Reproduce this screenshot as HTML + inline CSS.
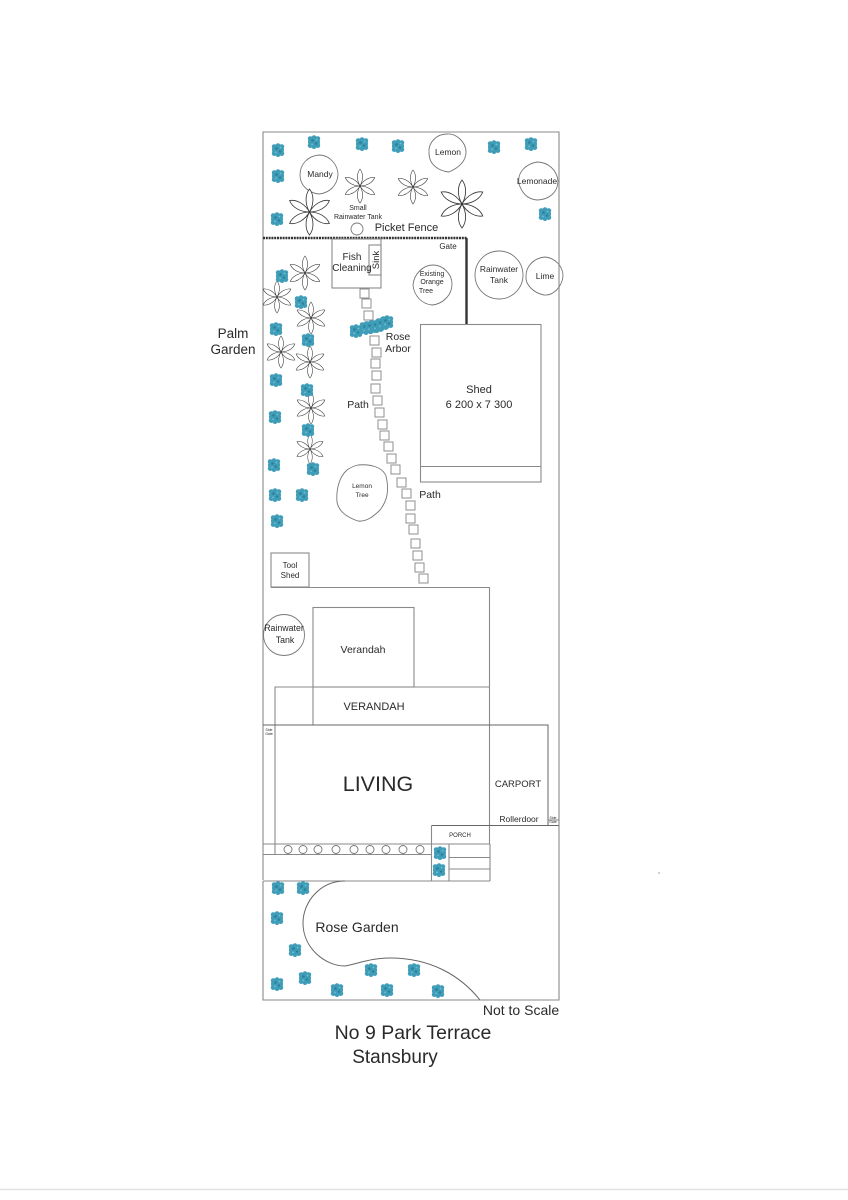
<!DOCTYPE html>
<html><head><meta charset="utf-8"><style>
html,body{margin:0;padding:0;background:#fff}
svg{display:block;filter:blur(.35px)}
text{font-family:"Liberation Sans",sans-serif;fill:#2a2a2a;text-anchor:middle}
.l{fill:none;stroke:#8a8a8a;stroke-width:1.1}
.d{fill:none;stroke:#666;stroke-width:1}
.s{fill:#fff;stroke:#8f8f8f;stroke-width:1}
.t{fill:none;stroke:#777;stroke-width:.9}
</style></head><body>
<svg width="848" height="1200" viewBox="0 0 848 1200" xmlns="http://www.w3.org/2000/svg">
<defs>
<g id="p"><path id="pt" d="M0 0C-.2 -.35 -.2 -.75 0 -1C.2 -.75 .2 -.35 0 0Z" fill="#fff" stroke="#333" stroke-width=".035"/><use href="#pt" transform="rotate(60)"/><use href="#pt" transform="rotate(120)"/><use href="#pt" transform="rotate(180)"/><use href="#pt" transform="rotate(240)"/><use href="#pt" transform="rotate(300)"/></g>
<g id="b"><circle r="6" fill="#3f9db8"/><circle cx="-3.8" cy="-3.4" r="2.4" fill="#3f9db8"/><circle cx="3.8" cy="-3.4" r="2.4" fill="#3f9db8"/><circle cx="-3.8" cy="3.6" r="2.4" fill="#3f9db8"/><circle cx="3.8" cy="3.6" r="2.4" fill="#3f9db8"/><circle cx="0" cy="-4.800" r="2" fill="#3f9db8"/><circle cx="0" cy="5" r="2" fill="#3f9db8"/><circle cx="-1.500" cy="-1.500" r="1.3" fill="#2a7f9a"/><circle cx="2" cy="1.600" r="1.2" fill="#2a7f9a"/><circle cx="-2" cy="2.400" r=".9" fill="#70c0d4"/><circle cx="2.500" cy="-2.500" r=".9" fill="#70c0d4"/></g>
</defs>

<!-- outer boundary -->
<path class="l" d="M263 880V132H559V1000H263V881"/>
<!-- fence -->
<path d="M263 238H467" stroke="#333" stroke-width="2.6" stroke-dasharray="2 .8" fill="none"/>
<path d="M466.500 238V324" stroke="#333" stroke-width="2.4" fill="none"/>
<!-- fish cleaning -->
<rect class="l" x="332" y="239" width="49" height="49"/>
<rect class="l" x="369" y="245" width="12" height="30"/>
<!-- shed -->
<rect class="l" x="420.500" y="324.500" width="120.500" height="157.500"/>
<path class="l" d="M420.500 466.500H541"/>
<!-- tool shed and house -->
<rect class="l" x="271" y="553" width="38" height="34"/>
<path class="l" d="M271 587.500H489.500V844"/>
<rect class="l" x="313" y="607.500" width="101" height="79.500"/>
<path class="l" d="M275 844V687H489.500M313 687V725"/>
<path class="d" d="M263 725H548V825"/>
<path class="d" d="M431.500 825.500H559"/>
<path class="l" d="M431.500 825.500V881M263 844H490M263 854.500H431.500M275 844V854.500M263 881H490M449 844V881M449 857.500H490M449 869H490M490 844V881"/>
<path class="l" d="M548 820H559"/>
<!-- tanks and trees -->
<circle class="t" cx="284" cy="635" r="20.500"/>
<circle class="t" cx="357" cy="229" r="6"/>
<circle class="t" cx="499" cy="275" r="24"/>
<path class="t" d="M447 134C456 133 466 142 466 152C466 162 458 168 449 172C439 171 429 165 429 153C428 142 437 134 447 134Z"/>
<path class="t" d="M319 155C330 155 338 165 338 175C337 186 329 193 319 194C309 193 300 186 300 175C300 164 308 156 319 155Z"/>
<path class="t" d="M537 162C548 162 557 170 558 181C558 192 549 200 537 200C527 199 522 193 519 184C517 172 526 164 537 162Z"/>
<path class="t" d="M545 257C555 258 563 266 563 276C562 287 553 296 544 295C534 293 525 285 526 276C526 266 534 258 545 257Z"/>
<path class="t" d="M433 265C443 265 452 274 452 284C452 295 443 304 432 305C422 304 414 296 413 285C414 274 423 265 433 265Z"/>
<path class="t" d="M358 465C368 464 382 466 386 476C389 489 388 500 380 510C373 517 366 522 358 521C349 518 339 513 337 502C336 490 339 477 347 470C351 467 354 466 358 465Z"/>

<!-- palms -->
<use href="#p" transform="translate(309.500 212) scale(23)"/>
<use href="#p" transform="translate(360 186) scale(17)"/>
<use href="#p" transform="translate(413 187) scale(17)"/>
<use href="#p" transform="translate(462 204) scale(24)"/>
<use href="#p" transform="translate(305 273) scale(17)"/>
<use href="#p" transform="translate(277 297) scale(16)"/>
<use href="#p" transform="translate(311 318) scale(16)"/>
<use href="#p" transform="translate(281 352) scale(16)"/>
<use href="#p" transform="translate(310 362) scale(16)"/>
<use href="#p" transform="translate(311 408) scale(16)"/>
<use href="#p" transform="translate(310 449) scale(15)"/>

<!-- path stones -->
<g class="s">
<rect x="360" y="289" width="9" height="9"/><rect x="362" y="299" width="9" height="9"/><rect x="364" y="311" width="9" height="9"/>
<rect x="370" y="336" width="9" height="9"/><rect x="372" y="348" width="9" height="9"/><rect x="371" y="359" width="9" height="9"/><rect x="372" y="371" width="9" height="9"/><rect x="371" y="384" width="9" height="9"/><rect x="373" y="396" width="9" height="9"/><rect x="375" y="408" width="9" height="9"/><rect x="378" y="420" width="9" height="9"/><rect x="380" y="431" width="9" height="9"/><rect x="384" y="442" width="9" height="9"/><rect x="387" y="454" width="9" height="9"/><rect x="391" y="465" width="9" height="9"/><rect x="397" y="478" width="9" height="9"/><rect x="402" y="489" width="9" height="9"/><rect x="406" y="501" width="9" height="9"/><rect x="406" y="514" width="9" height="9"/><rect x="409" y="525" width="9" height="9"/><rect x="411" y="539" width="9" height="9"/><rect x="413" y="551" width="9" height="9"/><rect x="415" y="563" width="9" height="9"/><rect x="419" y="574" width="9" height="9"/>
</g>

<!-- porch planter circles -->
<g class="t">
<circle cx="288" cy="849.500" r="4"/><circle cx="303" cy="849.500" r="4"/><circle cx="318" cy="849.500" r="4"/><circle cx="336" cy="849.500" r="4"/><circle cx="354" cy="849.500" r="4"/><circle cx="370" cy="849.500" r="4"/><circle cx="386" cy="849.500" r="4"/><circle cx="403" cy="849.500" r="4"/><circle cx="420" cy="849.500" r="4"/>
</g>

<!-- garden curve -->
<path d="M345 881C320 881 303 902 303 923C303 948 325 966 345 966C360 963 372 958 390 958C430 958 460 975 480 1000" fill="none" stroke="#666" stroke-width="1"/>

<!-- bushes -->
<use href="#b" x="278" y="150"/><use href="#b" x="314" y="142"/><use href="#b" x="362" y="144"/><use href="#b" x="398" y="146"/><use href="#b" x="494" y="147"/><use href="#b" x="531" y="144"/><use href="#b" x="278" y="176"/><use href="#b" x="277" y="219"/><use href="#b" x="545" y="214"/>
<use href="#b" x="282" y="276"/><use href="#b" x="301" y="302"/><use href="#b" x="276" y="329"/><use href="#b" x="308" y="340"/>
<use href="#b" x="356" y="331"/><use href="#b" x="366" y="328"/><use href="#b" x="371" y="327"/><use href="#b" x="377" y="326"/><use href="#b" x="382" y="324"/><use href="#b" x="387" y="322"/>
<use href="#b" x="276" y="380"/><use href="#b" x="307" y="390"/><use href="#b" x="275" y="417"/><use href="#b" x="308" y="430"/><use href="#b" x="274" y="465"/><use href="#b" x="313" y="469"/><use href="#b" x="275" y="495"/><use href="#b" x="302" y="495"/><use href="#b" x="277" y="521"/>
<use href="#b" x="440" y="853"/><use href="#b" x="439" y="870"/>
<use href="#b" x="278" y="888"/><use href="#b" x="303" y="888"/><use href="#b" x="277" y="918"/><use href="#b" x="295" y="950"/><use href="#b" x="277" y="984"/><use href="#b" x="305" y="978"/><use href="#b" x="337" y="990"/><use href="#b" x="371" y="970"/><use href="#b" x="387" y="990"/><use href="#b" x="414" y="970"/><use href="#b" x="438" y="991"/>

<!-- labels -->
<text x="448" y="155" font-size="8.500">Lemon</text>
<text x="320" y="177" font-size="8.500">Mandy</text>
<text x="537" y="184" font-size="8.500">Lemonade</text>
<text x="358" y="210" font-size="7">Small</text>
<text x="358" y="219" font-size="7">Rainwater Tank</text>
<text x="406.500" y="231" font-size="11">Picket Fence</text>
<text x="448" y="249" font-size="8">Gate</text>
<text x="352" y="260" font-size="10">Fish</text>
<text x="352" y="271" font-size="10">Cleaning</text>
<text transform="translate(379 260) rotate(-90)" font-size="9.500">Sink</text>
<text x="432" y="276" font-size="7">Existing</text>
<text x="432" y="284" font-size="7">Orange</text>
<text x="426" y="293" font-size="7">Tree</text>
<text x="499" y="272" font-size="8.500">Rainwater</text>
<text x="499" y="283" font-size="8.500">Tank</text>
<text x="545" y="279" font-size="8.500">Lime</text>
<text x="233" y="338" font-size="13.500">Palm</text>
<text x="233" y="354" font-size="13.500">Garden</text>
<text x="398" y="340" font-size="10.500">Rose</text>
<text x="398" y="352" font-size="10.500">Arbor</text>
<text x="479" y="393" font-size="11">Shed</text>
<text x="479" y="408" font-size="11">6 200 x 7 300</text>
<text x="358" y="408" font-size="10.500">Path</text>
<text x="430" y="498" font-size="10.500">Path</text>
<text x="362" y="488" font-size="6.500">Lemon</text>
<text x="362" y="497" font-size="6.500">Tree</text>
<text x="290" y="568" font-size="8">Tool</text>
<text x="290" y="578" font-size="8">Shed</text>
<text x="284" y="631" font-size="8.800">Rainwater</text>
<text x="285" y="643" font-size="8.800">Tank</text>
<text x="363" y="653" font-size="10.500">Verandah</text>
<text x="374" y="710" font-size="11">VERANDAH</text>
<text x="269" y="731" font-size="3.500">Side</text>
<text x="269" y="735" font-size="3.500">Gate</text>
<text x="378" y="791" font-size="21.500">LIVING</text>
<text x="518" y="787" font-size="9.500">CARPORT</text>
<text x="519" y="822" font-size="8.500">Rollerdoor</text>
<text x="553" y="819" font-size="3.500">Side</text>
<text x="553" y="823" font-size="3.500">Gate</text>
<text x="460" y="837" font-size="6">PORCH</text>
<text x="357" y="932" font-size="14">Rose Garden</text>
<text x="521" y="1015" font-size="14">Not to Scale</text>
<text x="413" y="1039" font-size="19.500">No 9 Park Terrace</text>
<text x="395" y="1063" font-size="19">Stansbury</text>

<!-- scan artefacts -->
<path d="M0 1189.500H848" stroke="#e2e2e2" stroke-width="1.500"/>
<circle cx="659" cy="873" r=".7" fill="#888"/>
</svg>
</body></html>
